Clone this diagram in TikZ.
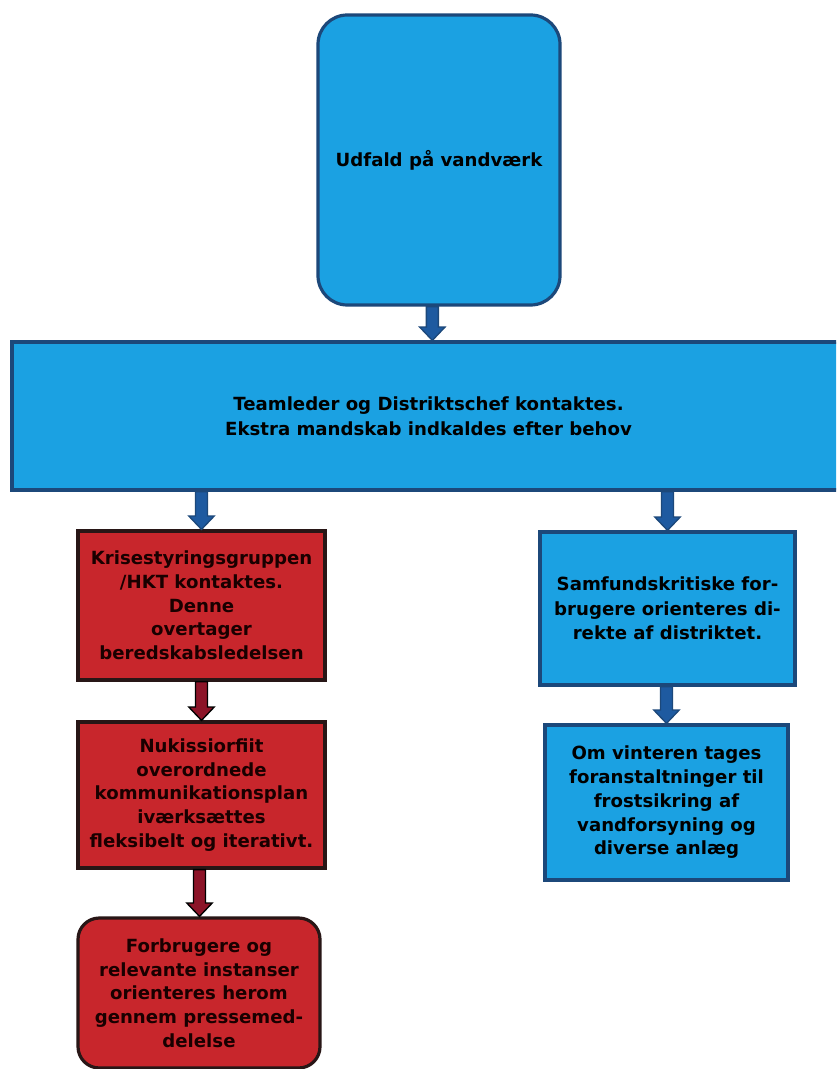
\documentclass[tikz,border=0pt]{standalone}
\usepackage{fontspec}
\setmainfont{DejaVu Sans}
\usetikzlibrary{calc}
\definecolor{boxblue}{RGB}{27,161,226}
\definecolor{edgeblue}{RGB}{28,72,122}
\definecolor{arrowblue}{RGB}{30,90,160}
\definecolor{boxred}{RGB}{200,38,44}
\definecolor{edgered}{RGB}{40,22,22}
\definecolor{arrowred}{RGB}{140,20,40}
\tikzset{
  bluebox/.style={draw=edgeblue, fill=boxblue, line width=2.4pt, align=center,
    font=\fontsize{13.6}{18.3}\selectfont\bfseries, text=black, inner sep=0pt},
  redbox/.style={draw=edgered, fill=boxred, line width=2.4pt, align=center,
    font=\fontsize{13.6}{17.8}\selectfont\bfseries, text=black!90!red, inner sep=0pt},
  blockarrow/.style={line width=1pt, to path={
    let \p1=(\tikztostart), \p2=(\tikztotarget) in
    (\x1-4.5pt,\y1) -- (\x1-4.5pt,\y2+10pt) -- (\x1-9.5pt,\y2+10pt) -- (\x1,\y2)
    -- (\x1+9.5pt,\y2+10pt) -- (\x1+4.5pt,\y2+10pt) -- (\x1+4.5pt,\y1) -- cycle}},
  bluearrow/.style={blockarrow, draw=edgeblue, fill=arrowblue},
  redarrow/.style={blockarrow, draw=black, fill=arrowred}
}
\begin{document}
\begin{tikzpicture}[x=0.75pt,y=-0.75pt]
\useasboundingbox (0,0) rectangle (836,1069);
\clip (0,0) rectangle (836,1069);
\fill[white] (0,0) rectangle (836,1069);

% top event
\node[bluebox, rounded corners=22pt, minimum width=181.5pt, minimum height=217.5pt,
  font=\fontsize{13.6}{18}\selectfont\bfseries] (udfald) at (439,160) {Udfald på vandværk};

% wide notification bar
\node[bluebox, minimum width=624.75pt, minimum height=111pt,
  font=\fontsize{13.6}{18.8}\selectfont\bfseries] (team) at (428.5,416)
  {Teamleder og Distriktschef kontaktes.\\Ekstra mandskab indkaldes efter behov};

% left branch
\node[redbox, minimum width=185.25pt, minimum height=111.75pt] (krise) at (201.5,605.5)
  {Krisestyringsgruppen\\/HKT kontaktes.\\Denne\\overtager\\beredskabsledelsen};
\node[redbox, minimum width=185.25pt, minimum height=109.5pt] (plan) at (201.5,795)
  {Nukissiorfiit\\overordnede\\kommunikationsplan\\iværksættes\\fleksibelt og iterativt.};
\node[redbox, rounded corners=16pt, minimum width=181.5pt, minimum height=112.5pt] (presse) at (199,993)
  {Forbrugere og\\relevante instanser\\orienteres herom\\gennem pressemed-\\delelse};

% right branch
\node[bluebox, minimum width=191.25pt, minimum height=114.75pt] (samf) at (667.5,608.5)
  {Samfundskritiske for-\\brugere orienteres di-\\rekte af distriktet.};
\node[bluebox, minimum width=182.25pt, minimum height=116.25pt,
  font=\fontsize{13.6}{17.8}\selectfont\bfseries] (vinter) at (666.5,802.5)
  {Om vinteren tages\\foranstaltninger til\\frostsikring af\\vandforsyning og\\diverse anlæg};

% connectors
\draw[bluearrow] ([xshift=-5pt]udfald.south) to ([xshift=-5pt]udfald.south |- team.north);
\draw[bluearrow] (team.south -| krise.north) to (krise.north);
\draw[bluearrow] (team.south -| samf.north) to (samf.north);
\draw[redarrow] (krise.south) to (plan.north);
\draw[redarrow] ([xshift=-1.5pt]plan.south) to ([xshift=-1.5pt]plan.south |- presse.north);
\draw[bluearrow] (samf.south -| vinter.north) to (vinter.north);
\end{tikzpicture}
\end{document}
